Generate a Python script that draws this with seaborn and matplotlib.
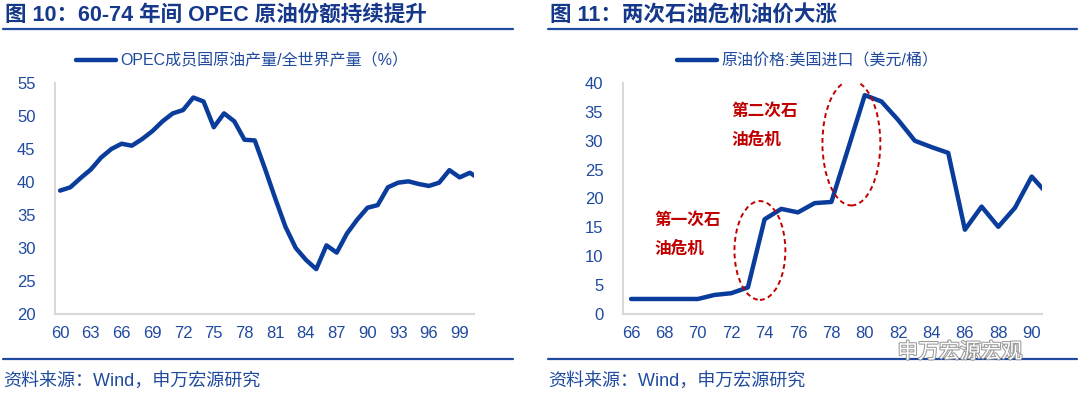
import matplotlib
matplotlib.use("Agg")
import matplotlib.pyplot as plt
import matplotlib.patheffects as pe
from matplotlib.patches import Ellipse
from matplotlib.lines import Line2D
import seaborn as sns
import pandas as pd

# ---- data -------------------------------------------------------------
opec_years = list(range(1960, 2002))
opec_share = [38.7, 39.2, 40.6, 41.9, 43.7, 45.0, 45.8, 45.5, 46.5, 47.7,
              49.2, 50.4, 50.9, 52.8, 52.2, 48.3, 50.4, 49.2, 46.4, 46.3,
              42.0, 37.5, 33.2, 30.0, 28.2, 26.8, 30.4, 29.3, 32.2, 34.3,
              36.1, 36.5, 39.2, 39.9, 40.1, 39.7, 39.4, 39.9, 41.8, 40.7,
              41.4, 40.4]
opec_label = "OPEC成员国原油产量/全世界产量（%）"

oil_years = list(range(1966, 1992))
oil_price = [2.6, 2.6, 2.6, 2.6, 2.6, 3.3, 3.6, 4.6, 16.4, 18.2,
             17.6, 19.2, 19.4, 28.6, 37.9, 36.8, 33.6, 30.0, 28.9, 27.9,
             14.6, 18.6, 15.1, 18.4, 23.8, 20.6]
oil_label = "原油价格:美国进口（美元/桶）"

left_title = "图 10：60-74 年间 OPEC 原油份额持续提升"
right_title = "图 11：两次石油危机油价大涨"
source_text = "资料来源：Wind，申万宏源研究"
crisis_notes = ["第一次石\n油危机", "第二次石\n油危机"]

# ---- style ------------------------------------------------------------
sns.set_theme(style="white")
plt.rcParams["font.family"] = ["Liberation Sans", "Noto Sans CJK SC", "DejaVu Sans"]

LINE = "#0A3C9C"
TEXT = "#1F4A9E"
TITLE = "#16388A"
GRID = "#D9D9D9"
RED = "#C00000"

W, H = 1080, 394
fig = plt.figure(figsize=(W / 100, H / 100), dpi=100)


def px_rect(x0, y0, x1, y1):
    return [x0 / W, 1 - y1 / H, (x1 - x0) / W, (y1 - y0) / H]


def style_axis(ax, n_labels, step, labels, xmax):
    for s in ["top", "right"]:
        ax.spines[s].set_visible(False)
    for s in ["left", "bottom"]:
        ax.spines[s].set_color(GRID)
        ax.spines[s].set_linewidth(1.5)
    ax.set_xlim(-0.5, xmax)
    bounds = [-0.5 + step * k for k in range(n_labels)]
    ax.set_xticks(bounds)
    ax.set_xticklabels([])
    ax.set_xticks([step * k for k in range(len(labels))], minor=True)
    ax.set_xticklabels(labels, minor=True)
    ax.tick_params(axis="x", which="major", direction="out", length=4,
                   width=1.2, color=GRID)
    ax.tick_params(axis="x", which="minor", length=0, pad=9,
                   labelsize=12, labelcolor=TEXT)
    ax.tick_params(axis="y", direction="in", length=4, width=1.2,
                   color=GRID, pad=14, labelsize=12, labelcolor=TEXT)
    ax.set_xlabel("")
    ax.set_ylabel("")


# ---- left chart -------------------------------------------------------
ax1 = fig.add_axes(px_rect(55, 83, 474, 314))
df1 = pd.DataFrame({"x": range(len(opec_years)), "y": opec_share})
sns.lineplot(data=df1, x="x", y="y", ax=ax1, color=LINE, linewidth=3.2,
             label=opec_label)
ax1.set_ylim(20, 55)
ax1.set_yticks(range(20, 56, 5))
style_axis(ax1, 14, 3, [str(y)[2:] for y in opec_years[0:40:3]], 40.4)
ax1.legend(loc="center left", bbox_to_anchor=(76 / W, 1 - 61 / H),
           bbox_transform=fig.transFigure, frameon=False, borderpad=0,
           borderaxespad=0, handlelength=2.5, handletextpad=0.3,
           prop={"size": 11.5}, labelcolor=TEXT)

# ---- right chart ------------------------------------------------------
ax2 = fig.add_axes(px_rect(622.7, 83, 1041.7, 314))
df2 = pd.DataFrame({"x": range(len(oil_years)), "y": oil_price})
sns.lineplot(data=df2, x="x", y="y", ax=ax2, color=LINE, linewidth=3.2,
             label=oil_label)
ax2.set_ylim(0, 40)
ax2.set_yticks(range(0, 41, 5))
style_axis(ax2, 13, 2, [str(y)[2:] for y in oil_years[0:25:2]], 24.6)
ax2.legend(loc="center left", bbox_to_anchor=(677 / W, 1 - 61 / H),
           bbox_transform=fig.transFigure, frameon=False, borderpad=0,
           borderaxespad=0, handlelength=2.5, handletextpad=0.3,
           prop={"size": 11.5}, labelcolor=TEXT)

for (cx, cy, w, h) in [(7.72, 11.0, 3.05, 17.1), (13.2, 29.6, 3.47, 21.6)]:
    ax2.add_patch(Ellipse((cx, cy), w, h, fill=False, edgecolor=RED,
                          linestyle=(0, (2.5, 1.8)), linewidth=1.4, zorder=5))
for (tx, ty), note in zip([(1.4, 17.9), (6.0, 36.7)], crisis_notes):
    ax2.text(tx, ty, note, ha="left", va="top", fontsize=12,
             fontweight="bold", color=RED, linespacing=1.8,
             family=["Noto Sans CJK SC"])

# ---- titles, rules, source -------------------------------------------
for x0, x1, title in [(3, 513, left_title), (548, 1077, right_title)]:
    fig.text(x0 / W + 2 / W, 1 - 15 / H, title, ha="left", va="center",
             fontsize=15.5, fontweight="bold", color=TITLE,
             family=["Liberation Sans", "Noto Sans CJK SC"])
    fig.add_artist(Line2D([x0 / W, x1 / W], [1 - 29 / H, 1 - 29 / H],
                          color="#1F4AA0", linewidth=1.6))
    fig.add_artist(Line2D([x0 / W, x1 / W], [1 - 359 / H, 1 - 359 / H],
                          color="#1F4AA0", linewidth=1.6))
    fig.text(x0 / W, 1 - 381 / H, source_text, ha="left", va="center",
             fontsize=13, color=TEXT,
             family=["Liberation Sans", "Noto Sans CJK SC"])

fig.text(960 / W, 1 - 352 / H, "申万宏源宏观", ha="center", va="center",
         fontsize=15, color="white", style="italic",
         family=["Noto Sans CJK SC"],
         path_effects=[pe.withStroke(linewidth=1.5, foreground="#9A9A9A")])

fig.savefig("out.png", dpi=100)
